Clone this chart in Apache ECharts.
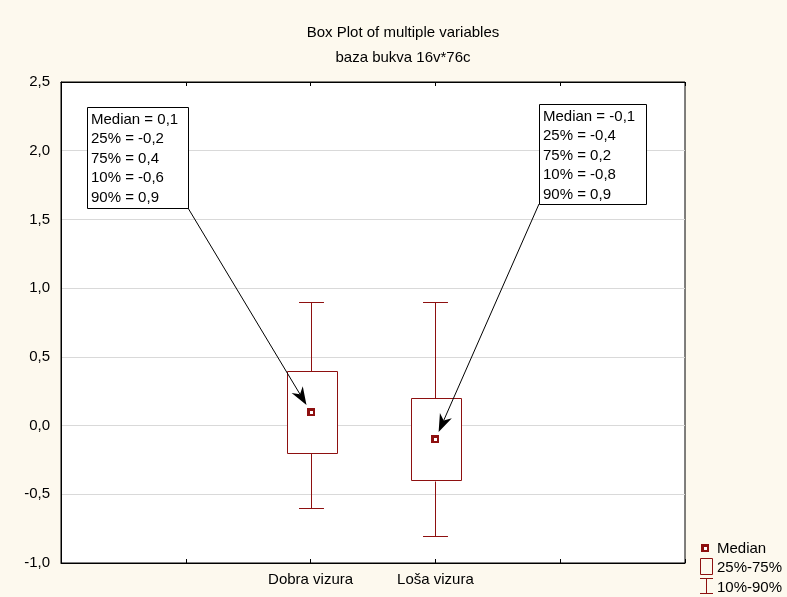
<!DOCTYPE html>
<html><head><meta charset="utf-8">
<script src="https://cdn.jsdelivr.net/npm/echarts@6/dist/echarts.min.js"></script>
<style>html,body{margin:0;padding:0;background:#fdf9ee;}#c{width:787px;height:597px;}</style>
</head><body><div id="c"></div>
<script>
const categories = ['Dobra vizura', 'Loša vizura'];
const categoryPositions = [2, 3];
const medians = [0.1, -0.1];
const q25 = [-0.2, -0.4];
const q75 = [0.4, 0.2];
const p10 = [-0.6, -0.8];
const p90 = [0.9, 0.9];
const yMin = -1.0, yMax = 2.5, yStep = 0.5;
const titleText = 'Box Plot of multiple variables';
const subtitleText = 'baza bukva 16v*76c';
const legendLabels = ['Median', '25%-75%', '10%-90%'];

const FONT = '"Liberation Sans", Arial, sans-serif';
const FS = 15;
const RED = '#8e1010';
const fmt = v => v.toFixed(1).replace('.', ',');

const chart = echarts.init(document.getElementById('c'), null, {renderer: 'canvas'});

const boxData = categories.map((c, i) => [categoryPositions[i], p10[i], q25[i], medians[i], q75[i], p90[i]]);

function renderItem(params, api) {
  const x = api.value(0);
  const lo = api.coord([x, api.value(1)]);
  const q1 = api.coord([x, api.value(2)]);
  const md = api.coord([x, api.value(3)]);
  const q3 = api.coord([x, api.value(4)]);
  const hi = api.coord([x, api.value(5)]);
  const unit = api.size([1, 0])[0];
  const bw = unit * 0.4, cw = unit * 0.2;
  const cx = Math.round(lo[0]) + 0.5;
  const r = v => Math.round(v) + 0.5;
  const st = {stroke: RED, lineWidth: 1, fill: null};
  return {
    type: 'group',
    children: [
      {type: 'line', shape: {x1: cx, y1: r(hi[1]), x2: cx, y2: r(q3[1])}, style: st},
      {type: 'line', shape: {x1: cx, y1: r(q1[1]), x2: cx, y2: r(lo[1])}, style: st},
      {type: 'line', shape: {x1: cx - cw / 2, y1: r(hi[1]), x2: cx + cw / 2, y2: r(hi[1])}, style: st},
      {type: 'line', shape: {x1: cx - cw / 2, y1: r(lo[1]), x2: cx + cw / 2, y2: r(lo[1])}, style: st},
      {type: 'rect', shape: {x: Math.round(cx - bw / 2) + 0.5, y: r(q3[1]), width: Math.round(bw), height: Math.round(q1[1] - q3[1])}, style: {stroke: RED, fill: '#fff', lineWidth: 1}},
      {type: 'rect', shape: {x: Math.round(md[0]) - 4, y: Math.round(md[1]) - 4, width: 8, height: 8}, style: {fill: RED}},
      {type: 'rect', shape: {x: Math.round(md[0]) - 1, y: Math.round(md[1]) - 1, width: 3, height: 3}, style: {fill: '#fff'}}
    ]
  };
}

const xAxisBase = {
  type: 'value', min: 0, max: 5, interval: 1,
  axisLine: {show: true, onZero: false, lineStyle: {color: '#000', width: 1}},
  axisTick: {show: true, inside: true, length: 4, lineStyle: {color: '#000'}},
  splitLine: {show: false}
};

chart.setOption({
  animation: false,
  backgroundColor: '#fdf9ee',
  grid: {left: 61, right: 102, top: 82, bottom: 34, show: true, backgroundColor: '#fff', borderColor: '#000', borderWidth: 1},
  xAxis: [
    Object.assign({}, xAxisBase, {
      position: 'bottom',
      axisLabel: {
        color: '#000', fontFamily: FONT, fontSize: FS, margin: 9,
        formatter: v => { const i = categoryPositions.indexOf(v); return i >= 0 ? categories[i] : ''; }
      }
    }),
    Object.assign({}, xAxisBase, {position: 'top', axisLabel: {show: false}})
  ],
  yAxis: {
    type: 'value', min: yMin, max: yMax, interval: yStep,
    axisLine: {show: true, onZero: false, lineStyle: {color: '#000'}},
    axisTick: {show: false},
    axisLabel: {color: '#000', fontFamily: FONT, fontSize: FS, margin: 11, padding: [3, 0, 0, 0], formatter: v => fmt(v)},
    splitLine: {show: true, lineStyle: {color: '#d9d9d9', width: 1}}
  },
  series: [{
    type: 'custom', renderItem: renderItem, data: boxData,
    encode: {x: 0, y: [1, 2, 3, 4, 5]}, z: 5
  }]
});

function annLines(i) {
  return ['Median = ' + fmt(medians[i]), '25% = ' + fmt(q25[i]), '75% = ' + fmt(q75[i]), '10% = ' + fmt(p10[i]), '90% = ' + fmt(p90[i])];
}

function arrow(from, to, gap) {
  const dx = to[0] - from[0], dy = to[1] - from[1];
  const len = Math.sqrt(dx * dx + dy * dy);
  const ux = dx / len, uy = dy / len;
  const tip = [to[0] - ux * gap, to[1] - uy * gap];
  const hl = 18, hw = 6.5;
  const base = [tip[0] - ux * hl, tip[1] - uy * hl];
  const notch = [tip[0] - ux * hl * 0.7, tip[1] - uy * hl * 0.7];
  const px = -uy, py = ux;
  return [
    {type: 'line', shape: {x1: from[0], y1: from[1], x2: notch[0], y2: notch[1]}, style: {stroke: '#000', lineWidth: 1}, z: 20},
    {type: 'polygon', shape: {points: [tip, [base[0] + px * hw, base[1] + py * hw], notch, [base[0] - px * hw, base[1] - py * hw]]}, style: {fill: '#000'}, z: 20}
  ];
}

const boxes = [
  {x: 87, y: 107, w: 101, h: 101, corner: 'br'},
  {x: 539, y: 104, w: 107, h: 100, corner: 'bl'}
];

const graphics = [];
graphics.push({type: 'text', x: 403, y: 33, style: {text: titleText, font: FS + 'px ' + FONT, fill: '#000', textAlign: 'center', textVerticalAlign: 'middle'}});
graphics.push({type: 'text', x: 403, y: 58, style: {text: subtitleText, font: FS + 'px ' + FONT, fill: '#000', textAlign: 'center', textVerticalAlign: 'middle'}});

boxes.forEach((b, i) => {
  graphics.push({type: 'rect', shape: {x: b.x + 0.5, y: b.y + 0.5, width: b.w, height: b.h}, style: {fill: '#fff', stroke: '#000', lineWidth: 1}, z: 15});
  annLines(i).forEach((t, k) => {
    graphics.push({type: 'text', x: b.x + 4, y: b.y + 12.5 + k * 19.5, style: {text: t, font: FS + 'px ' + FONT, fill: '#000', textVerticalAlign: 'middle'}, z: 16});
  });
  const from = b.corner === 'br' ? [b.x + b.w, b.y + b.h] : [b.x, b.y + b.h];
  const to = chart.convertToPixel({xAxisIndex: 0, yAxisIndex: 0}, [categoryPositions[i], medians[i]]);
  arrow(from, to, 8).forEach(g => graphics.push(g));
});

// legend
const lx = 700;
graphics.push({type: 'rect', shape: {x: lx + 1, y: 544, width: 8, height: 8}, style: {fill: RED}});
graphics.push({type: 'rect', shape: {x: lx + 4, y: 547, width: 3, height: 3}, style: {fill: '#fff'}});
graphics.push({type: 'rect', shape: {x: lx + 0.5, y: 558.5, width: 12, height: 16}, style: {fill: null, stroke: RED, lineWidth: 1}});
graphics.push({type: 'line', shape: {x1: lx + 6.5, y1: 578, x2: lx + 6.5, y2: 594}, style: {stroke: RED, lineWidth: 1}});
graphics.push({type: 'line', shape: {x1: lx, y1: 578.5, x2: lx + 13, y2: 578.5}, style: {stroke: RED, lineWidth: 1}});
graphics.push({type: 'line', shape: {x1: lx, y1: 593.5, x2: lx + 13, y2: 593.5}, style: {stroke: RED, lineWidth: 1}});
[549, 568, 588].forEach((y, k) => {
  graphics.push({type: 'text', x: 717, y: y, style: {text: legendLabels[k], font: FS + 'px ' + FONT, fill: '#000', textVerticalAlign: 'middle'}});
});

chart.setOption({graphic: graphics});
</script></body></html>
